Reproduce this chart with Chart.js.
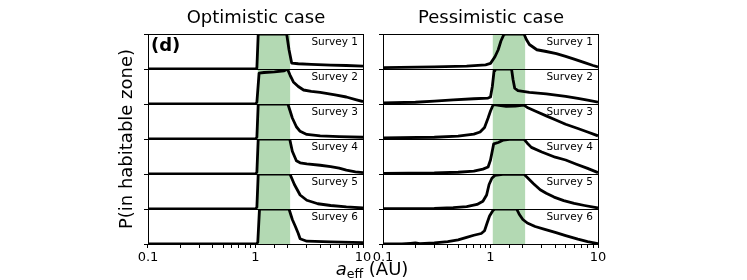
<!DOCTYPE html>
<html>
<head>
<meta charset="utf-8">
<script src="https://cdn.jsdelivr.net/npm/chart.js@4.4.0/dist/chart.umd.min.js"></script>
<style>
  body { margin: 0; background: #fff; width: 747px; height: 280px; overflow: hidden; position: relative; font-family: 'DejaVu Sans', sans-serif; }
  .panel { position: absolute; top: 24px; width: 280px; height: 256px; }
  .txt { position: absolute; white-space: nowrap; color: #000; font-size: 18px; line-height: 18px; }
  .txt sub { font-size: 12.6px; line-height: 0; vertical-align: -3px; }
</style>
</head>
<body>
<div class="panel" style="left:100px"><canvas id="optChart" width="280" height="256"></canvas></div>
<div class="panel" style="left:335px"><canvas id="pesChart" width="280" height="256"></canvas></div>
<div class="txt" style="left:256px; top:8px; transform:translateX(-50%)">Optimistic case</div>
<div class="txt" style="left:491px; top:8px; transform:translateX(-50%)">Pessimistic case</div>
<div class="txt" style="left:126px; top:139px; transform:translate(-50%,-50%) rotate(-90deg)">P(in habitable zone)</div>
<div class="txt" style="left:151px; top:36px; font-weight:bold">(d)</div>
<div class="txt" style="left:372px; top:260px; transform:translateX(-50%)"><i>a</i><sub>eff</sub> (AU)</div>
<script>
// Survey labels shown in every row
const surveyLabels = ['Survey 1', 'Survey 2', 'Survey 3', 'Survey 4', 'Survey 5', 'Survey 6'];

// x axis tick labels (log scale)
const xTickValues = [0.1, 1, 10];
const xTickLabels = ['0.1', '1', '10'];

// habitable zone band (AU)
const habitableZone = [1.05, 2.1];

// Optimistic case: [a_eff, P]
const opt1 = [[0.1,0],[1.0,0],[1.03,0.03],[1.06,1],[1.95,1],[2.05,0.55],[2.17,0.17],[2.5,0.15],[3.3,0.13],[5,0.11],[7,0.1],[10,0.08]];
const opt2 = [[0.1,0],[1.0,0],[1.03,0.05],[1.08,0.88],[1.2,0.9],[1.5,0.92],[1.85,0.95],[1.98,1],[2.1,0.82],[2.25,0.63],[2.5,0.5],[2.8,0.4],[3.3,0.36],[4,0.33],[5.5,0.26],[7,0.2],[8.7,0.12],[10,0.07]];
const opt3 = [[0.1,0],[1.0,0],[1.03,0.05],[1.06,1],[2.0,1],[2.1,0.8],[2.2,0.6],[2.4,0.35],[2.6,0.22],[3,0.13],[4,0.09],[6,0.07],[10,0.05]];
const opt4 = [[0.1,0],[1.0,0],[1.03,0.05],[1.06,1],[2.08,1],[2.2,0.65],[2.4,0.38],[2.6,0.32],[3,0.29],[4,0.25],[5,0.21],[6,0.17],[7,0.11],[8.5,0.06],[10,0.04]];
const opt5 = [[0.1,0],[1.0,0],[1.03,0.05],[1.06,1],[2.09,1],[2.3,0.7],[2.6,0.4],[3.0,0.25],[3.8,0.15],[5,0.1],[7,0.06],[10,0.03]];
const opt6 = [[0.1,0],[1.02,0],[1.05,0.05],[1.09,1],[2.05,1],[2.2,0.7],[2.35,0.5],[2.5,0.3],[2.6,0.15],[3,0.08],[5,0.06],[10,0.04]];

// Pessimistic case: [a_eff, P]
const pes1 = [[0.1,0.04],[0.3,0.06],[0.6,0.08],[0.9,0.12],[1.0,0.16],[1.1,0.35],[1.18,0.55],[1.25,0.8],[1.33,0.98],[1.4,1],[2.05,1],[2.15,0.85],[2.3,0.7],[2.7,0.55],[3.3,0.5],[4.1,0.44],[5,0.36],[6,0.28],[7.5,0.18],[9,0.1],[10,0.06]];
const pes2 = [[0.1,0.03],[0.2,0.05],[0.3,0.08],[0.45,0.12],[0.7,0.15],[0.95,0.17],[1.0,0.2],[1.04,0.5],[1.08,0.95],[1.1,1],[1.57,1],[1.62,0.7],[1.68,0.45],[1.8,0.38],[2.3,0.33],[3.3,0.29],[5,0.22],[6.5,0.16],[8,0.11],[10,0.05]];
const pes3 = [[0.1,0.03],[0.3,0.05],[0.5,0.08],[0.7,0.14],[0.8,0.2],[0.88,0.33],[0.95,0.6],[1.0,0.8],[1.05,0.95],[1.08,0.98],[1.2,0.96],[1.4,0.93],[1.7,0.94],[2.05,0.97],[2.2,0.9],[2.6,0.8],[3.3,0.66],[4,0.55],[5,0.42],[6.5,0.3],[8,0.2],[10,0.09]];
const pes4 = [[0.1,0.02],[0.3,0.03],[0.5,0.05],[0.7,0.08],[0.85,0.14],[0.95,0.2],[1.0,0.4],[1.03,0.6],[1.07,0.86],[1.18,0.9],[1.32,0.97],[1.5,0.99],[2.05,0.99],[2.2,0.88],[2.4,0.76],[3,0.63],[4,0.48],[5,0.4],[6.3,0.28],[8,0.16],[10,0.04]];
const pes5 = [[0.1,0.01],[0.3,0.02],[0.45,0.04],[0.6,0.07],[0.75,0.13],[0.85,0.22],[0.92,0.4],[0.97,0.7],[1.03,0.88],[1.1,0.96],[1.3,0.99],[2.05,0.99],[2.2,0.9],[2.5,0.73],[2.9,0.55],[3.3,0.45],[3.9,0.34],[4.8,0.24],[6,0.16],[7.5,0.1],[10,0.03]];
const pes6 = [[0.1,0],[0.15,0.005],[0.18,0.02],[0.2,0.03],[0.22,0.01],[0.3,0.03],[0.4,0.07],[0.5,0.12],[0.6,0.19],[0.7,0.25],[0.82,0.3],[0.88,0.38],[0.93,0.6],[0.98,0.8],[1.05,0.95],[1.1,1],[1.75,1],[1.85,0.85],[2.0,0.7],[2.2,0.6],[2.6,0.5],[3.2,0.42],[4,0.33],[5,0.24],[6.5,0.14],[8,0.07],[10,0.01]];

const optimistic = [opt1, opt2, opt3, opt4, opt5, opt6];
const pessimistic = [pes1, pes2, pes3, pes4, pes5, pes6];

const FONT = 'DejaVu Sans';

// green band drawn under everything
const bandPlugin = {
    id: 'band',
    beforeDraw(chart) {
        const { ctx, chartArea } = chart;
        const x = chart.scales.x;
        const x0 = x.getPixelForValue(habitableZone[0]);
        const x1 = x.getPixelForValue(habitableZone[1]);
        ctx.save();
        ctx.fillStyle = '#b3d9b3';
        ctx.fillRect(x0, chartArea.top, x1 - x0, chartArea.bottom - chartArea.top);
        ctx.restore();
    }
};

// right frame line and survey labels
const framePlugin = {
    id: 'frame',
    afterDatasetsDraw(chart) {
        const { ctx, chartArea } = chart;
        ctx.save();
        ctx.strokeStyle = '#000';
        ctx.lineWidth = 1;
        const xr = Math.round(chartArea.right) + 0.5;
        ctx.beginPath();
        ctx.moveTo(xr, chartArea.top);
        ctx.lineTo(xr, chartArea.bottom);
        ctx.stroke();

        ctx.fillStyle = '#000';
        ctx.font = '10.5px "' + FONT + '"';
        ctx.textAlign = 'right';
        ctx.textBaseline = 'middle';
        surveyLabels.forEach((label, i) => {
            const s = chart.scales['s' + (i + 1)];
            ctx.fillText(label, chartArea.right - 5, s.top + 8);
        });
        ctx.restore();
    }
};

function makeChart(canvasId, series) {
    const scales = {
        x: {
            type: 'logarithmic',
            position: 'bottom',
            min: 0.1,
            max: 10,
            border: { color: '#000', width: 1 },
            grid: { drawOnChartArea: false, tickLength: 4, tickColor: '#000' },
            ticks: {
                autoSkip: false,
                maxRotation: 0,
                padding: 2,
                color: '#000',
                font: { family: FONT, size: 13 },
                callback: (v) => {
                    const idx = xTickValues.findIndex(t => Math.abs(t - v) < 1e-9);
                    return idx >= 0 ? xTickLabels[idx] : '';
                }
            },
            afterFit: (s) => { s.height = 36; }
        }
    };
    // last defined sits on top of the stack
    for (let i = series.length; i >= 1; i--) {
        scales['s' + i] = {
            type: 'linear',
            position: 'left',
            stack: 'rows',
            stackWeight: 1,
            min: 0,
            max: 1,
            offset: false,
            border: { color: '#000', width: 1 },
            grid: { color: '#000', lineWidth: 1, tickLength: 4, tickColor: '#000' },
            ticks: { display: false, stepSize: 1 },
            afterFit: (s) => { s.width = 4; }
        };
    }

    const datasets = series.map((pts, i) => ({
        data: pts.map(([x, y]) => ({ x: x, y: y })),
        xAxisID: 'x',
        yAxisID: 's' + (i + 1),
        borderColor: '#000',
        borderWidth: 2.8,
        borderJoinStyle: 'round',
        pointRadius: 0,
        tension: 0,
        fill: false
    }));

    return new Chart(document.getElementById(canvasId), {
        type: 'line',
        data: { datasets: datasets },
        options: {
            responsive: false,
            animation: false,
            devicePixelRatio: 1,
            layout: { padding: { left: 44, right: 17, top: 10, bottom: 0 } },
            scales: scales,
            plugins: {
                legend: { display: false },
                tooltip: { enabled: false },
                title: { display: false }
            }
        },
        plugins: [bandPlugin, framePlugin]
    });
}

makeChart('optChart', optimistic);
makeChart('pesChart', pessimistic);
</script>
</body>
</html>
